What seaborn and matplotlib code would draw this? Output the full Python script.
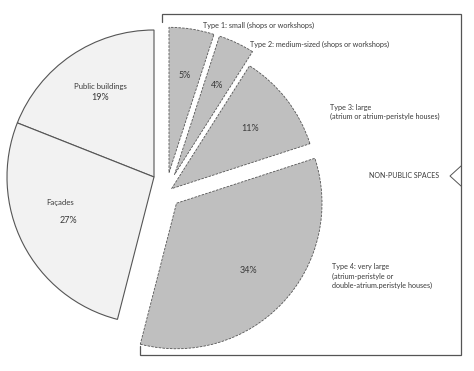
import numpy as np
import matplotlib
matplotlib.use("Agg")
import matplotlib.pyplot as plt
import seaborn as sns


# DATA

public_names = ["Public buildings", "Façades"]
public_share = [19, 27]

private_names = [
    "Type 4: very large\n(atrium-peristyle or\ndouble-atrium.peristyle houses)",
    "Type 3: large\n(atrium or atrium-peristyle houses)",
    "Type 2: medium-sized (shops or workshops)",
    "Type 1: small (shops or workshops)",
]
private_share = [34, 11, 4, 5]
private_explode = [0.10, 0.05, 0.14, 0.14]

group_label = "NON-PUBLIC SPACES"


# STYLE

sns.set_theme(style="white")
plt.rcParams["font.family"] = ["Lato", "DejaVu Sans"]

W, H = 474, 371
TEXT = "#3a3a3a"
LINE = "#555555"
PUBLIC_FILL = "#f2f2f2"
PRIVATE_FILL = "#bfbfbf"


def px(x, y):
    # pixel position (from top-left) -> axes fraction
    return x / W, 1 - y / H


fig = plt.figure(figsize=(W / 100, H / 100), dpi=100)
ax = fig.add_axes([0, 0, 1, 1])

cx, cy, R = 154, 177, 147

# public part (solid edges), rest left blank
pub_wedges, _ = ax.pie(
    public_share + [100 - sum(public_share)],
    startangle=90,
    counterclock=True,
    radius=1.0,
    colors=[PUBLIC_FILL, PUBLIC_FILL, "none"],
    wedgeprops=dict(edgecolor=LINE, linewidth=0.8),
    frame=True,
)
pub_wedges[-1].set_visible(False)

# non-public part, shifted down-right and exploded
priv_wedges, _ = ax.pie(
    [100 - sum(private_share)] + private_share,
    startangle=90,
    counterclock=True,
    radius=0.99,
    center=(0.08, -0.11),
    explode=[0] + private_explode,
    colors=["none"] + [PRIVATE_FILL] * len(private_share),
    wedgeprops=dict(edgecolor=LINE, linewidth=0.6, linestyle=(0, (3, 1.5))),
    frame=True,
)
priv_wedges[0].set_visible(False)

ax.set_xlim(-cx / R, (W - cx) / R)
ax.set_ylim(-(H - cy) / R, cy / R)
ax.set_aspect("equal")
ax.axis("off")


def pct_label(wedge, value, dist=0.67):
    mid = np.deg2rad((wedge.theta1 + wedge.theta2) / 2)
    x0, y0 = wedge.center
    ax.text(
        x0 + dist * wedge.r * np.cos(mid),
        y0 + dist * wedge.r * np.sin(mid),
        f"{value}%",
        ha="center", va="center",
        fontsize=6.5, color=TEXT,
    )


for w, v in zip(pub_wedges[:-1], public_share):
    pct_label(w, v, dist=0.65)

for w, v in zip(priv_wedges[1:], private_share):
    pct_label(w, v, dist=0.68)

# public names
ax.text(*px(100, 86), public_names[0], transform=ax.transAxes,
        ha="center", va="center", fontsize=5.6, color=TEXT)
ax.text(*px(60, 203), public_names[1], transform=ax.transAxes,
        ha="center", va="center", fontsize=5.6, color=TEXT)

# non-public names
name_pos = [(332, 276), (330, 112), (250, 44), (203, 25)]
for name, (x, y) in zip(private_names, name_pos):
    ax.text(*px(x, y), name, transform=ax.transAxes,
            ha="left", va="center", fontsize=5.2, color=TEXT,
            linespacing=1.35)

# bracket around the non-public spaces
bracket = [(162, 22), (162, 14), (461, 14), (461, 355), (140, 355), (140, 346)]
bx, by = zip(*[px(x, y) for x, y in bracket])
ax.plot(bx, by, color=LINE, linewidth=0.9, transform=ax.transAxes,
        solid_joinstyle="miter")

arrow = [(461, 166), (450, 176), (461, 186)]
ax_, ay_ = zip(*[px(x, y) for x, y in arrow])
ax.plot(ax_, ay_, color=LINE, linewidth=0.7, transform=ax.transAxes)

ax.text(*px(439, 176), group_label, transform=ax.transAxes,
        ha="right", va="center", fontsize=5.0, color=TEXT)

fig.savefig("out.png", dpi=100, facecolor="white")
